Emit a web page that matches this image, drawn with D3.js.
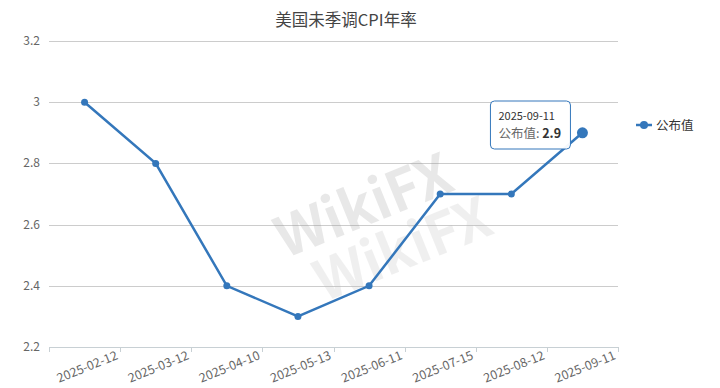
<!DOCTYPE html>
<html>
<head>
<meta charset="utf-8">
<script src="https://cdn.jsdelivr.net/npm/d3@7"></script>
<style>
  body { margin: 0; background: #fff; }
  text { font-family: "Noto Sans CJK SC", "Open Sans", sans-serif; }
</style>
</head>
<body>
<div id="chart"></div>
<script>
var width = 720,
    height = 388

// data
var dates = ["2025-02-12", "2025-03-12", "2025-04-10", "2025-05-13", "2025-06-11", "2025-07-15", "2025-08-12", "2025-09-11"]
var values = [3.0, 2.8, 2.4, 2.3, 2.4, 2.7, 2.7, 2.9]
var yTicks = [2.2, 2.4, 2.6, 2.8, 3, 3.2]
var title = "美国未季调CPI年率"
var seriesName = "公布值"

var color = "#3477bb"

var svg = d3.select("#chart")
    .append("svg")
        .attr("width", width)
        .attr("height", height)
        .style("background-color", "white")

var x = d3.scaleBand()
    .domain(dates)
    .range([49, 618])

var y = d3.scaleLinear()
    .domain([2.2, 3.2])
    .range([347, 41])

// title
svg.append("text")
    .attr("x", 346)
    .attr("y", 26)
    .attr("text-anchor", "middle")
    .style("font-size", "16.5px")
    .style("fill", "#444")
    .text(title)

// grid lines
svg.append("g")
    .selectAll("line")
    .data(yTicks)
    .enter()
    .append("line")
        .attr("x1", 49)
        .attr("x2", 618)
        .attr("y1", function(d) { return Math.round(y(d)) + 0.5 })
        .attr("y2", function(d) { return Math.round(y(d)) + 0.5 })
        .attr("stroke", "#ccc")

// y labels
svg.append("g")
    .selectAll("text")
    .data(yTicks)
    .enter()
    .append("text")
        .attr("x", 40)
        .attr("y", function(d) { return y(d) + 4 })
        .attr("text-anchor", "end")
        .style("font-size", "12px")
        .style("fill", "#666")
        .text(function(d) { return d })

// x axis line + ticks
svg.append("line")
    .attr("x1", 49).attr("x2", 618)
    .attr("y1", 347.5).attr("y2", 347.5)
    .attr("stroke", "#c8d0d4")

var tickPos = dates.map(function(d) { return x(d) }).concat([x.range()[1]])
svg.append("g")
    .selectAll("line")
    .data(tickPos)
    .enter()
    .append("line")
        .attr("x1", function(d) { return Math.round(d) + 0.5 })
        .attr("x2", function(d) { return Math.round(d) + 0.5 })
        .attr("y1", 347)
        .attr("y2", 352)
        .attr("stroke", "#c8d0d4")

// x labels, rotated
svg.append("g")
    .selectAll("text")
    .data(dates)
    .enter()
    .append("text")
        .attr("transform", function(d) {
            return "translate(" + (x(d) + x.bandwidth() - 5) + ",350) rotate(-22)"
        })
        .attr("text-anchor", "end")
        .attr("dy", "0.75em")
        .style("font-size", "12.5px")
        .style("fill", "#666")
        .text(function(d) { return d })

// watermark
var wm = svg.append("g")
    .attr("transform", "translate(360,250) rotate(-22)")
    .style("opacity", 0.22)
wm.append("text")
    .attr("x", 20).attr("y", -20)
    .attr("text-anchor", "middle")
    .style("font-size", "56px")
    .style("font-weight", "bold")
    .style("fill", "#999")
    .text("WikiFX")
wm.append("text")
    .attr("x", 40).attr("y", 35)
    .attr("text-anchor", "middle")
    .style("font-size", "56px")
    .style("font-weight", "bold")
    .style("fill", "#bbb")
    .text("WikiFX")

// line
var line = d3.line()
    .x(function(d, i) { return x(dates[i]) + x.bandwidth() / 2 })
    .y(function(d) { return y(d) })

svg.append("path")
    .datum(values)
    .attr("d", line)
    .attr("fill", "none")
    .attr("stroke", color)
    .attr("stroke-width", 2.5)

svg.append("g")
    .selectAll("circle")
    .data(values)
    .enter()
    .append("circle")
        .attr("cx", function(d, i) { return x(dates[i]) + x.bandwidth() / 2 })
        .attr("cy", function(d) { return y(d) })
        .attr("r", function(d, i) { return i == values.length - 1 ? 5.5 : 3.5 })
        .attr("fill", color)

// legend
var lg = svg.append("g").attr("transform", "translate(636,125)")
lg.append("line")
    .attr("x1", 0).attr("x2", 16)
    .attr("stroke", color).attr("stroke-width", 2.5)
lg.append("circle").attr("cx", 8).attr("r", 4).attr("fill", color)
lg.append("text")
    .attr("x", 20).attr("y", 5)
    .style("font-size", "12.5px")
    .style("fill", "#333")
    .text(seriesName)

// tooltip for last point
var last = values.length - 1
var tx = x(dates[last]) + x.bandwidth() / 2 - 92,
    ty = 101
var tip = svg.append("g").attr("transform", "translate(" + tx + "," + ty + ")")
tip.append("rect")
    .attr("width", 80).attr("height", 48)
    .attr("rx", 4)
    .attr("fill", "rgba(255,255,255,0.95)")
    .attr("stroke", color)
    .attr("stroke-width", 1)
tip.append("text")
    .attr("x", 8).attr("y", 19)
    .style("font-size", "11px")
    .style("fill", "#333")
    .text(dates[last])
var t2 = tip.append("text")
    .attr("x", 8).attr("y", 37)
    .style("font-size", "12.5px")
    .style("fill", "#666")
t2.append("tspan").text(seriesName + ": ")
t2.append("tspan")
    .style("font-weight", "bold")
    .style("fill", "#333")
    .text(values[last])
</script>
</body>
</html>
